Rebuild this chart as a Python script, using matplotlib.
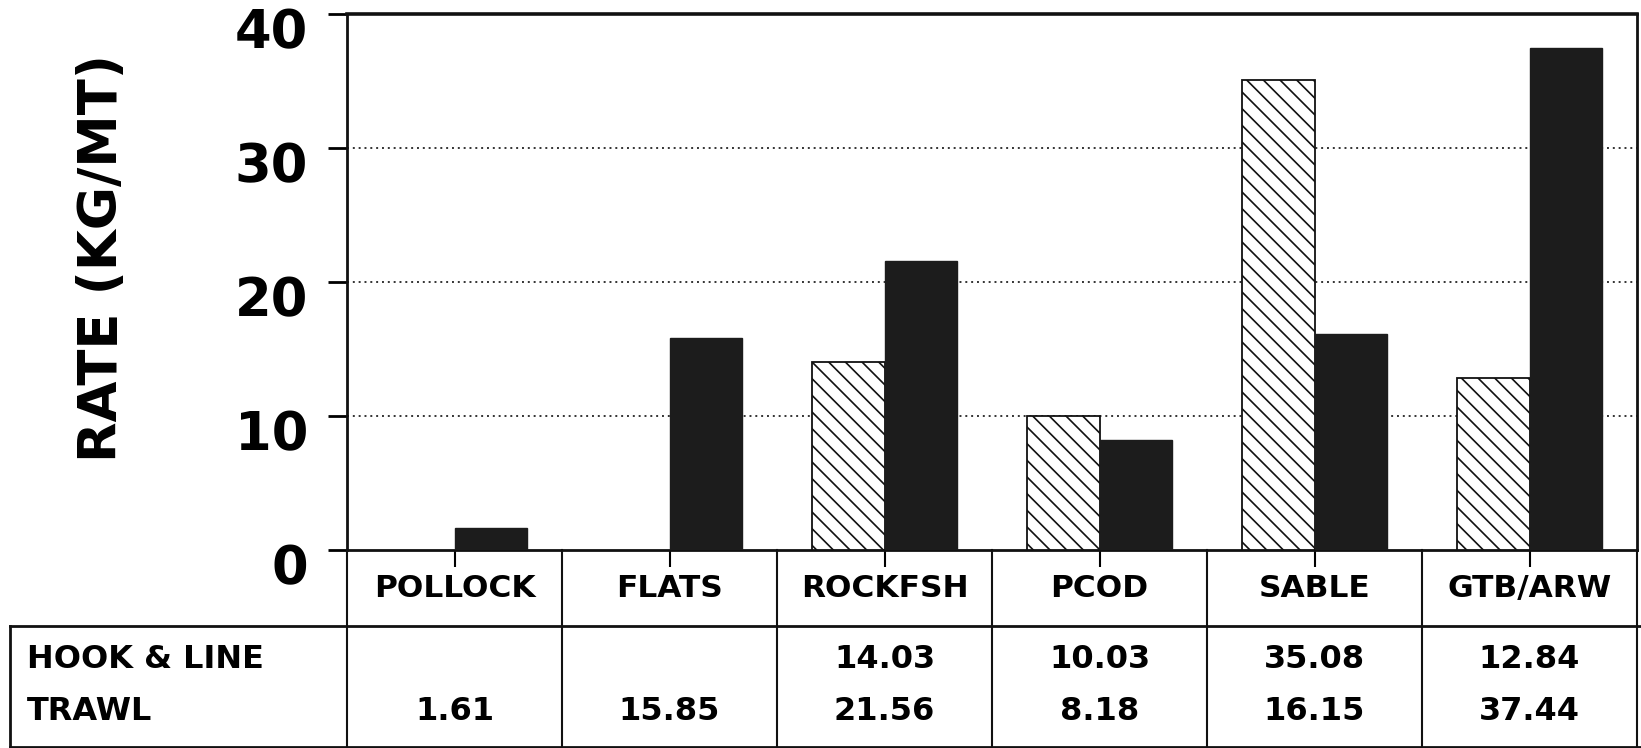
import numpy as np
import matplotlib
matplotlib.use("Agg")
import matplotlib.pyplot as plt
from matplotlib.transforms import ScaledTranslation

# data
species = ["POLLOCK", "FLATS", "ROCKFSH", "PCOD", "SABLE", "GTB/ARW"]
hook_line = [np.nan, np.nan, 14.03, 10.03, 35.08, 12.84]
trawl = [1.61, 15.85, 21.56, 8.18, 16.15, 37.44]
row_names = ["HOOK & LINE", "TRAWL"]
yticks = [0, 10, 20, 30, 40]

plt.rcParams["font.family"] = ["DejaVu Sans"]
plt.rcParams["font.weight"] = "bold"
plt.rcParams["hatch.linewidth"] = 1.2

W, H = 1641, 748
fig = plt.figure(figsize=(W / 100, H / 100), dpi=100)
ax = fig.add_axes([347 / W, (H - 550) / H, 1290 / W, 536 / H])

x = np.arange(len(species))
w = 0.335
ax.bar(x - w / 2, hook_line, w, facecolor="white", edgecolor="#111111",
       hatch="\\\\", linewidth=1.3, zorder=3)
ax.bar(x + w / 2, trawl, w, color="#1c1c1c", edgecolor="#1c1c1c",
       linewidth=1.0, zorder=3)

ax.set_xlim(-0.5, len(species) - 0.5)
ax.set_ylim(0, 40)
ax.set_yticks(yticks)
ax.set_yticklabels([str(v) for v in yticks], fontsize=38, fontweight="bold")
ax.tick_params(axis="y", direction="out", length=14, width=2, pad=14)
# the labels in the original hang just below their tick
for lab in ax.get_yticklabels():
    lab.set_va("top")
    lab.set_transform(lab.get_transform() +
                      ScaledTranslation(0, 5 / 72, fig.dpi_scale_trans))
ax.set_xticks(x)
ax.set_xticklabels([])
ax.tick_params(axis="x", direction="out", length=12, width=1.5)

for y in yticks[1:-1]:
    ax.axhline(y, color="#333333", lw=1.4, ls=(0, (1, 2)), zorder=1)

for s in ax.spines.values():
    s.set_linewidth(2)
    s.set_color("#111111")
ax.spines["top"].set_linewidth(2.6)

ax.set_ylabel("RATE (KG/MT)", fontsize=38, fontweight="bold")
ax.yaxis.set_label_coords(-0.170, 0.545)

# table below the axes
tx = ax.get_xaxis_transform()
row_top = -0.1418
row_bot = -0.3675
left = -0.2612
lc = "#111111"
for i in range(len(species) + 1):
    ax.plot([i - 0.5, i - 0.5], [0, row_bot], color=lc, lw=1.5,
            transform=tx, clip_on=False)
ax.plot([left, 1.003], [row_top, row_top], color=lc, lw=2,
        transform=ax.transAxes, clip_on=False)
ax.plot([left, 1.003], [row_bot, row_bot], color=lc, lw=2,
        transform=ax.transAxes, clip_on=False)
ax.plot([left, left], [row_top, row_bot], color=lc, lw=2,
        transform=ax.transAxes, clip_on=False)

for i, name in enumerate(species):
    ax.text(i, -0.0709, name, transform=tx, ha="center", va="center",
            fontsize=22.5, fontweight="bold")
    if not np.isnan(hook_line[i]):
        ax.text(i, -0.2052, f"{hook_line[i]:.2f}", transform=tx,
                ha="center", va="center", fontsize=23, fontweight="bold")
    ax.text(i, -0.3004, f"{trawl[i]:.2f}", transform=tx,
            ha="center", va="center", fontsize=23, fontweight="bold")

ax.text(-0.248, -0.2052, row_names[0], transform=ax.transAxes,
        ha="left", va="center", fontsize=23, fontweight="bold")
ax.text(-0.248, -0.3004, row_names[1], transform=ax.transAxes,
        ha="left", va="center", fontsize=23, fontweight="bold")

fig.savefig("out.png", dpi=100)
